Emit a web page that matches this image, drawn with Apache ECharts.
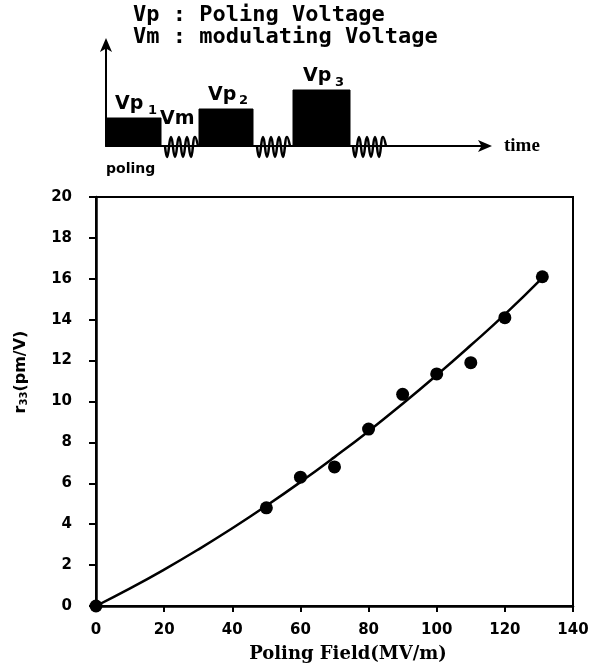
<!DOCTYPE html>
<html>
<head>
<meta charset="utf-8">
<script src="https://cdn.jsdelivr.net/npm/echarts@6/dist/echarts.min.js"></script>
<style>
html,body{margin:0;padding:0;background:#fff;}
#chart{width:601px;height:671px;}
</style>
</head>
<body>
<div id="chart"></div>
<script>
// ---- Main chart data ----
const polingField = [0, 50, 60, 70, 80, 90, 100, 110, 120, 131];
const r33Values   = [0, 4.8, 6.3, 6.8, 8.65, 10.35, 11.35, 11.9, 14.1, 16.1];
const fitField    = [0, 10, 20, 30, 40, 50, 60, 70, 80, 90, 100, 110, 120, 131];
const fitR33      = [0, 0.86, 1.78, 2.76, 3.8, 4.9, 6.06, 7.28, 8.55, 9.89, 11.29, 12.75, 14.26, 16.05];

// ---- Poling schematic data (time / voltage in diagram units) ----
const pulseTime  = [0, 0, 55, 55, 93, 93, 147, 147, 187, 187, 244, 244];
const pulseLevel = [0, 28, 28, 0, 0, 37, 37, 0, 0, 56, 56, 0];
const modTime  = [59, 61, 65, 69, 73, 77, 81, 85, 89, 92, null,
                  151, 153, 157, 161, 165, 169, 173, 177, 181, 184, null,
                  247, 249, 253, 257, 261, 265, 269, 273, 277, 280];
const modLevel = [0, -11, 9, -11, 9, -11, 9, -11, 9, 0, null,
                  0, -11, 9, -11, 9, -11, 9, -11, 9, 0, null,
                  0, -11, 9, -11, 9, -11, 9, -11, 9, 0];

const chart = echarts.init(document.getElementById('chart'), null, {renderer: 'canvas'});

const zip = (a, b) => a.map((v, i) => [v, b[i]]);
const modData = modTime.map((v, i) => (v === null ? '-' : [v, modLevel[i]]));

const labelFont = {color: '#000', fontWeight: 'bold', fontFamily: 'DejaVu Sans', fontSize: 15};

const option = {
  backgroundColor: '#fff',
  animation: false,
  grid: [
    {left: 96, top: 197, width: 477, height: 409, show: true, borderColor: '#000', borderWidth: 2, containLabel: false},
    {left: 106, top: 43, width: 381, height: 103, show: false}
  ],
  xAxis: [
    {
      gridIndex: 0, type: 'value', min: 0, max: 140, interval: 20,
      axisLine: {show: true, lineStyle: {color: '#000', width: 2.5}},
      axisTick: {show: true, length: 6, lineStyle: {color: '#000', width: 2}},
      axisLabel: Object.assign({margin: 17}, labelFont),
      splitLine: {show: false}
    },
    {
      gridIndex: 1, type: 'value', min: 0, max: 381,
      axisLine: {show: true, symbol: ['none', 'arrow'], symbolSize: [9, 14], symbolOffset: [0, 5],
                 lineStyle: {color: '#000', width: 2}},
      axisTick: {show: false}, axisLabel: {show: false}, splitLine: {show: false}
    }
  ],
  yAxis: [
    {
      gridIndex: 0, type: 'value', min: 0, max: 20, interval: 2,
      axisLine: {show: true, lineStyle: {color: '#000', width: 2.5}},
      axisTick: {show: true, length: 7, lineStyle: {color: '#000', width: 2}},
      axisLabel: Object.assign({margin: 24}, labelFont),
      splitLine: {show: false}
    },
    {
      gridIndex: 1, type: 'value', min: 0, max: 103,
      axisLine: {show: true, symbol: ['none', 'arrow'], symbolSize: [9, 14], symbolOffset: [0, 5],
                 lineStyle: {color: '#000', width: 2}},
      axisTick: {show: false}, axisLabel: {show: false}, splitLine: {show: false}
    }
  ],
  series: [
    {
      type: 'line', xAxisIndex: 0, yAxisIndex: 0,
      data: zip(fitField, fitR33), smooth: true, symbol: 'none',
      lineStyle: {color: '#000', width: 2.5}
    },
    {
      type: 'scatter', xAxisIndex: 0, yAxisIndex: 0,
      data: zip(polingField, r33Values), symbol: 'circle', symbolSize: 13,
      itemStyle: {color: '#000', opacity: 1}
    },
    {
      type: 'line', xAxisIndex: 1, yAxisIndex: 1,
      data: zip(pulseTime, pulseLevel), symbol: 'none', clip: false,
      lineStyle: {color: '#000', width: 1},
      areaStyle: {color: '#000', opacity: 1}
    },
    {
      type: 'line', xAxisIndex: 1, yAxisIndex: 1,
      data: modData, symbol: 'none', smooth: 0.5, clip: false, connectNulls: false,
      lineStyle: {color: '#000', width: 2.5}
    }
  ],
  graphic: [
    {type: 'text', x: 133, y: 15, style: {text: 'Vp : Poling Voltage', fill: '#000',
      font: 'bold 22px "DejaVu Sans Mono"', textVerticalAlign: 'middle'}},
    {type: 'text', x: 133, y: 37, style: {text: 'Vm : modulating Voltage', fill: '#000',
      font: 'bold 22px "DejaVu Sans Mono"', textVerticalAlign: 'middle'}},
    {type: 'text', x: 115, y: 104, style: {text: 'Vp', fill: '#000', font: 'bold 19px "DejaVu Sans"', textVerticalAlign: 'middle'}},
    {type: 'text', x: 148, y: 111, style: {text: '1', fill: '#000', font: 'bold 13px "DejaVu Sans"', textVerticalAlign: 'middle'}},
    {type: 'text', x: 160, y: 119, style: {text: 'Vm', fill: '#000', font: 'bold 19px "DejaVu Sans"', textVerticalAlign: 'middle'}},
    {type: 'text', x: 208, y: 95, style: {text: 'Vp', fill: '#000', font: 'bold 19px "DejaVu Sans"', textVerticalAlign: 'middle'}},
    {type: 'text', x: 239, y: 101, style: {text: '2', fill: '#000', font: 'bold 13px "DejaVu Sans"', textVerticalAlign: 'middle'}},
    {type: 'text', x: 303, y: 76, style: {text: 'Vp', fill: '#000', font: 'bold 19px "DejaVu Sans"', textVerticalAlign: 'middle'}},
    {type: 'text', x: 335, y: 83, style: {text: '3', fill: '#000', font: 'bold 13px "DejaVu Sans"', textVerticalAlign: 'middle'}},
    {type: 'text', x: 106, y: 169, style: {text: 'poling', fill: '#000', font: 'bold 14px "DejaVu Sans"', textVerticalAlign: 'middle'}},
    {type: 'text', x: 504, y: 146, style: {text: 'time', fill: '#000', font: 'bold 19px "Liberation Serif"', textVerticalAlign: 'middle'}},
    {type: 'text', x: 348, y: 654, style: {text: 'Poling Field(MV/m)', fill: '#000',
      font: 'bold 18px "DejaVu Serif"', textAlign: 'center', textVerticalAlign: 'middle'}},
    {type: 'text', x: 21, y: 372, rotation: Math.PI / 2,
      style: {text: '{b|r}{s|33}{b|(pm/V)}', fill: '#000', textAlign: 'center', textVerticalAlign: 'middle',
        rich: {
          b: {fontSize: 16, fontWeight: 'bold', fontFamily: 'DejaVu Sans', fill: '#000'},
          s: {fontSize: 10, fontWeight: 'bold', fontFamily: 'DejaVu Sans', fill: '#000', verticalAlign: 'bottom'}
        }}}
  ]
};

chart.setOption(option);
</script>
</body>
</html>
